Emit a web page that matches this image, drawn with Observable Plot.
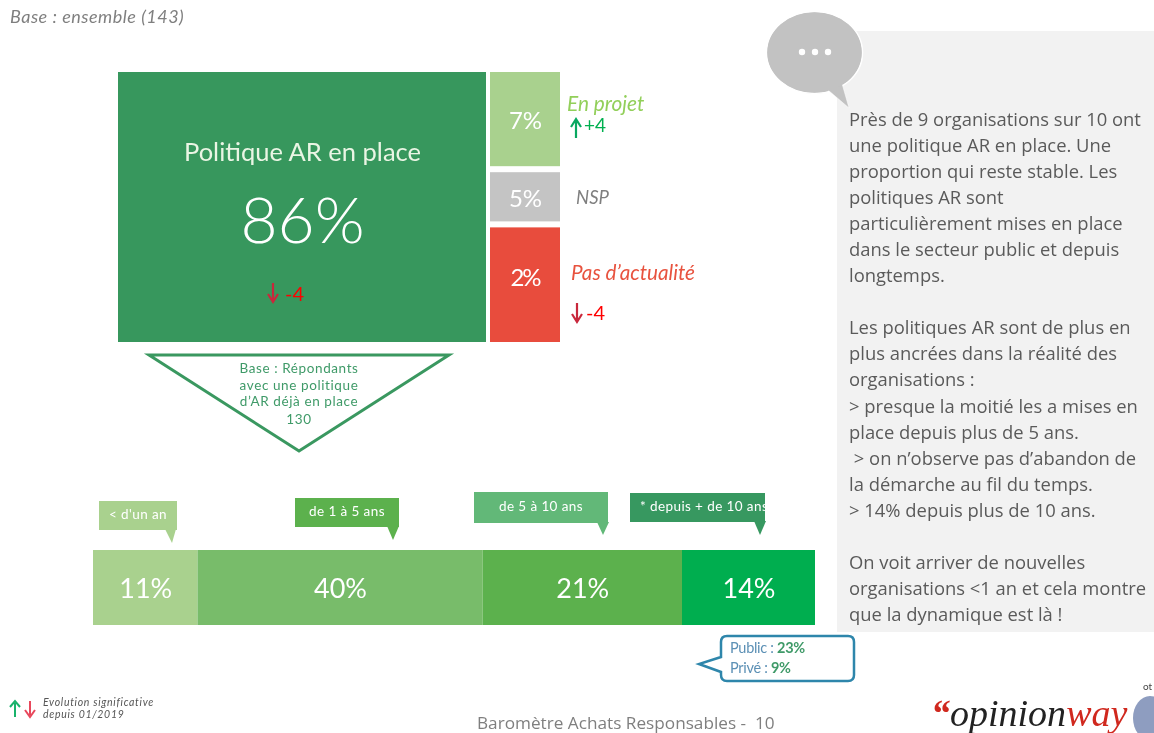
<!DOCTYPE html>
<html lang="fr">
<head>
<meta charset="utf-8">
<title>Baromètre Achats Responsables</title>
<script src="https://cdn.jsdelivr.net/npm/d3@7"></script>
<script src="https://cdn.jsdelivr.net/npm/@observablehq/plot@0.6"></script>
<style>
  html, body { margin: 0; padding: 0; background: #fff; }
  #page { position: relative; width: 1154px; height: 733px; overflow: hidden; font-family: Lato, sans-serif; filter: blur(0.45px); }
  #page > svg, .chart { position: absolute; }
  .chart svg { display: block; }
  .t { position: absolute; white-space: pre; line-height: 1; transform: translateY(-50%); }
  #panel { position: absolute; left: 837px; top: 31px; width: 317px; height: 601px; background: #F2F2F2; }
  #panelText { position: absolute; left: 849px; top: 106px; font: 18.4px/26.05px "Open Sans", sans-serif; color: #5a5a5a; white-space: pre; }
  .tag { position: absolute; color: #fff; font-size: 13.5px; letter-spacing: .4px; display: flex; align-items: center; justify-content: center; overflow: hidden; white-space: nowrap; padding-bottom: 3px; box-sizing: border-box; }
</style>
</head>
<body>
<div id="page"></div>
<script>
// ---- Data ----
const statusLabels = ["En projet", "NSP", "Pas d'actualité"];
const statusValues = [7, 5, 2];
// The source slide does not size its boxes to the values: these are the drawn shares of the column.
const statusDrawnShare = [36.3, 20, 43.7];
const mainLabel = "Politique AR en place";
const mainValue = 86;
const durationLabels = ["< d'un an", "de 1 à 5 ans", "de 5 à 10 ans", "* depuis + de 10 ans"];
const durationValues = [11, 40, 21, 14];
// The 40% segment is drawn narrower than its label in the source slide.
const durationDrawnWidth = [11, 30, 21, 14];
const panelLines = [
  "Près de 9 organisations sur 10 ont", "une politique AR en place. Une", "proportion qui reste stable. Les",
  "politiques AR sont", "particulièrement mises en place", "dans le secteur public et depuis", "longtemps.", "",
  "Les politiques AR sont de plus en", "plus ancrées dans la réalité des", "organisations :",
  "> presque la moitié les a mises en", "place depuis plus de 5 ans.", " > on n’observe pas d’abandon de",
  "la démarche au fil du temps.", "> 14% depuis plus de 10 ans.", "",
  "On voit arriver de nouvelles", "organisations <1 an et cela montre", "que la dynamique est là !"
];
const baseLines = ["Base : Répondants", "avec une politique", "d’AR déjà en place", "130"];

// ---- Styles ----
const statusColors = ["#A9D18E", "#C4C4C4", "#E84C3D"];
const durationColors = ["#A9D18E", "#78BC6A", "#5CB14D", "#00AE4F"];
const mainColor = "#37975D";

const page = document.getElementById("page");
function place(node, left, top) {
  const w = document.createElement("div");
  w.className = "chart";
  w.style.left = left + "px"; w.style.top = top + "px";
  w.append(node); page.append(w);
}
function label(text, x, y, css) {
  const s = document.createElement("span");
  s.className = "t"; s.textContent = text;
  s.style.left = x + "px"; s.style.top = y + "px";
  s.style.cssText += css || "";
  page.append(s); return s;
}
const clean = {marginTop: 0, marginRight: 0, marginBottom: 0, marginLeft: 0, style: {background: "transparent"}};

// grey panel behind everything
const panel = document.createElement("div"); panel.id = "panel"; page.append(panel);

// ---- Main box ----
place(Plot.plot({
  ...clean, width: 368, height: 270,
  x: {domain: [0, mainValue], axis: null},
  marks: [
    Plot.barX([mainValue], {x: d => d, fill: mainColor}),
    Plot.text([mainLabel], {frameAnchor: "middle", dy: -55, text: d => d, fill: "#EAF5E4", fontSize: 25.5, fontFamily: "Lato", fontWeight: 400}),
    Plot.text([mainValue], {frameAnchor: "middle", dy: 15, text: d => d + "%", fill: "#fff", fontSize: 64, fontFamily: "Lato", fontWeight: 300, letterSpacing: -1})
  ]
}), 118, 72);

// ---- Status column ----
const statusRows = statusLabels.map((name, i) => ({name, value: statusValues[i], share: statusDrawnShare[i]}));
const statusStack = {y: "share", order: null};
place(Plot.plot({
  ...clean, width: 70, height: 276,
  x: {axis: null, domain: ["c"], padding: 0}, y: {axis: null, reverse: true, domain: [0, 100]},
  color: {domain: statusLabels, range: statusColors},
  marks: [
    Plot.barY(statusRows, Plot.stackY({...statusStack, x: () => "c", fill: "name", insetTop: 3, insetBottom: 3})),
    Plot.text(statusRows.slice(0, 2), Plot.stackY({...statusStack, x: () => "c", text: d => d.value + "%", fill: "#fff", fontSize: 24, dy: 2, fontFamily: "Lato", letterSpacing: -2}))
  ]
}), 490, 69);
label(statusValues[2] + "%", 525, 277, "color:#fff;font-size:24px;transform:translate(-50%,-50%);letter-spacing:-2px");

// side labels
label(statusLabels[0], 567, 103, "color:#92CF5A;font-style:italic;font-size:20.8px");
label("+4", 584, 124, "color:#00B050;font-size:19px");
label(statusLabels[1], 576, 197, "color:#7f7f7f;font-style:italic;font-size:18.5px");
label(statusLabels[2].replace("'", "’"), 571, 272, "color:#E8533F;font-style:italic;font-size:20.7px");
label("-4", 586, 312, "color:#f00;font-size:20px");
label("-4", 285, 293, "color:#f00;font-size:20px");

// ---- Duration bar ----
const durationRows = durationLabels.map((name, i) => ({name, value: durationValues[i], width: durationDrawnWidth[i]}));
place(Plot.plot({
  ...clean, width: 722, height: 75,
  x: {axis: null, domain: [0, d3.sum(durationDrawnWidth)]},
  color: {domain: durationLabels, range: durationColors},
  marks: [
    Plot.barX(durationRows, Plot.stackX({x: "width", order: null, fill: "name"})),
    Plot.text(durationRows, Plot.stackX({x: "width", order: null, text: d => d.value + "%", frameAnchor: "middle", dy: 1, fill: "#fff", fontSize: 27, fontFamily: "Lato"}))
  ]
}), 93, 550);

// ---- Decorations (slide shapes, no data) ----
const NS = "http://www.w3.org/2000/svg";
const deco = document.createElementNS(NS, "svg");
deco.setAttribute("width", 1154); deco.setAttribute("height", 733);
deco.style.left = 0; deco.style.top = 0;
deco.innerHTML = `
  <polygon points="149,355 449,355 299,451" fill="#fff" stroke="#3A9860" stroke-width="3"/>
  <ellipse cx="814.5" cy="52.5" rx="48" ry="41" fill="#C2C2C2" stroke="#fff" stroke-width="1.5"/>
  <polygon points="828,90 849,108 841,80" fill="#C2C2C2" stroke="#fff" stroke-width="0.5"/>
  <ellipse cx="814.5" cy="52.5" rx="47" ry="40" fill="#C2C2C2"/>
  <circle cx="802" cy="52" r="3.2" fill="#fff"/><circle cx="815" cy="52" r="3.2" fill="#fff"/><circle cx="828" cy="52" r="3.2" fill="#fff"/>
  <polygon points="165,529 176,529 172,543" fill="#A9D18E"/>
  <polygon points="387,526 399,526 393,540" fill="#5CB14D"/>
  <polygon points="597,522 609,522 603,535" fill="#62B878"/>
  <polygon points="754,521 766,521 760,535" fill="#379860"/>
  <path d="M727,636 H848 Q854,636 854,642 V675 Q854,681 848,681 H727 Q721,681 721,675 V672 L699,664 L721,657 V642 Q721,636 727,636 Z" fill="#fff" stroke="#2E86AB" stroke-width="2.5"/>
  <ellipse cx="1150" cy="718" rx="17" ry="22" fill="#8E9DC0"/>
  <path d="M15,717 V703 M10,707 L15,701 L20,707" fill="none" stroke="#19B36B" stroke-width="2"/>
  <path d="M30,701 V715 M25,710 L30,717 L35,710" fill="none" stroke="#E8485C" stroke-width="2"/>
  <path d="M576,138 V120 M571,127 L576,119 L581,127" fill="none" stroke="#08A860" stroke-width="2.2"/>
  <path d="M577,303 V321 M572,314 L577,322 L582,314" fill="none" stroke="#C8283C" stroke-width="2.2"/>
  <path d="M273,283 V301 M268,294 L273,302 L278,294" fill="none" stroke="#C8283C" stroke-width="2.2"/>
`;
page.append(deco);

// base triangle text
baseLines.forEach((line, i) => label(line, 299, [369, 386, 402, 420][i], "color:#3F9A68;font-size:13.5px;transform:translate(-50%,-50%);letter-spacing:.6px"));

// tags over the bar
const tagBoxes = [[99, 501, 78, 29, "#A9D18E"], [295, 498, 104, 29, "#5CB14D"], [474, 492, 134, 31, "#62B878"], [630, 493, 135, 29, "#379860"]];
durationLabels.forEach((name, i) => {
  const [x, y, w, h, bg] = tagBoxes[i];
  const d = document.createElement("div");
  d.className = "tag"; d.textContent = name;
  d.style.cssText = `left:${x}px;top:${y}px;width:${w}px;height:${h}px;background:${bg};` + (i === 3 ? "justify-content:flex-start;padding-left:10px;" : "");
  page.append(d);
});

// panel text
const pt = document.createElement("div"); pt.id = "panelText"; pt.textContent = panelLines.join("\n"); page.append(pt);

// public / private callout
const pub = label("", 730, 648, "color:#5C90B5;font-size:14.5px;letter-spacing:-.3px");
pub.innerHTML = 'Public : <b style="color:#3F9A68">23%</b>';
const pri = label("", 730, 668, "color:#5C90B5;font-size:14.5px;letter-spacing:-.3px");
pri.innerHTML = 'Privé : <b style="color:#3F9A68">9%</b>';

// header / footer
label("Base : ensemble (143)", 10, 16, "color:#7f7f7f;font-style:italic;font-size:18px;letter-spacing:.5px");
label("Evolution significative", 43, 702, "color:#555;font-style:italic;font-size:10.5px;letter-spacing:.7px");
label("depuis 01/2019", 43, 714, "color:#555;font-style:italic;font-size:10.5px;letter-spacing:.7px");
label("Baromètre Achats Responsables -  10", 477, 723, "color:#7f7f7f;font:17.2px/1 'Open Sans',sans-serif");
const logo = label("", 931, 713, "font:italic 38px/1 'Liberation Serif',serif;color:#222");
logo.innerHTML = '<span style="color:#D0281E;font-weight:bold">“</span>opinion<span style="color:#D0281E">way</span>';
label("ot", 1143, 686, "color:#444;font-size:10px");
</script>
</body>
</html>
